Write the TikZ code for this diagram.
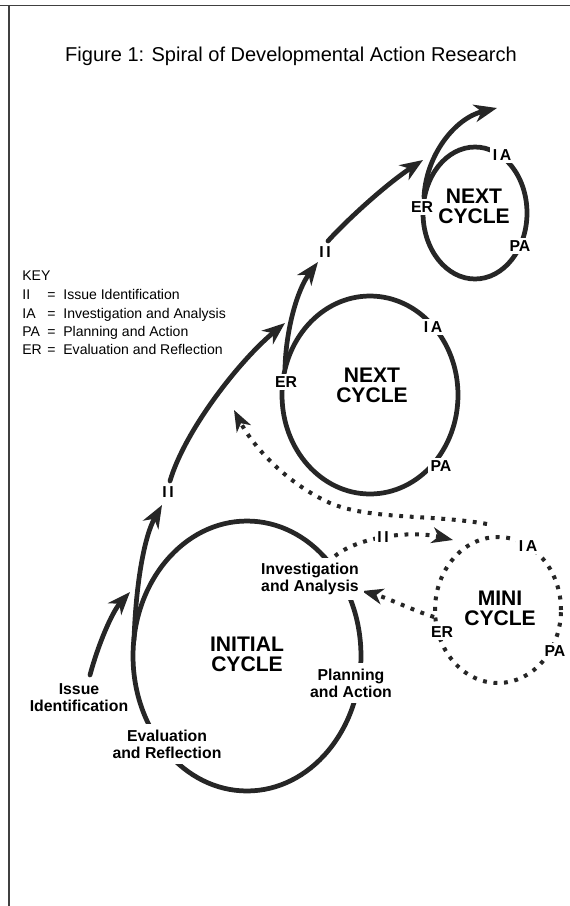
\documentclass[tikz,border=0pt]{standalone}
\usepackage{fontspec}
\setmainfont{Liberation Sans}
\usetikzlibrary{arrows.meta}
\begin{document}
\begin{tikzpicture}[x=0.02cm,y=-0.02cm,
  spiral/.style={line width=2.7pt, draw=black!85, line cap=round},
  spiralarrow/.style={spiral, -{Stealth[length=13pt,width=10pt,inset=4pt]}},
  dots/.style={line width=2.3pt, draw=black!85, dash pattern=on 2.2pt off 3.8pt},
  dotarrow/.style={dots, -{Stealth[length=12pt,width=9pt,inset=3.5pt]}},
  cyclename/.style={font=\bfseries\fontsize{12}{11.5}\selectfont, align=center, inner sep=0pt},
  tag/.style={font=\bfseries\fontsize{9}{10}\selectfont, fill=white, inner sep=1.5pt},
  phase/.style={font=\bfseries\fontsize{9}{9.8}\selectfont, align=center, fill=white, inner sep=3pt},
  keytext/.style={font=\fontsize{8}{10}\selectfont, anchor=west, inner sep=0pt, text height=1.6ex, text depth=0.3ex},
  frame/.style={line width=1.1pt, draw=black!75}
]
\useasboundingbox (0,0) rectangle (570,906);
% frame
\coordinate (fl) at (0,5.5);
\coordinate (fr) at (570,5.5);
\coordinate (ft) at (9,5.5);
\coordinate (fb) at (9,906);
\draw[frame] (fl) -- (fr);
\draw[frame] (ft) -- (fb);

% title
\node[font=\fontsize{11.4}{13}\selectfont] (title) at (291,56) {Figure 1: Spiral of Developmental Action Research};

% key
\node[keytext] (key) at (22,274) {KEY};
\node[keytext] (k1a) at (22,293) {II};
\node[keytext] (k1b) at (47,293) {=};
\node[keytext] (k1c) at (63,293) {Issue Identification};
\node[keytext] (k2a) at (22,312) {IA};
\node[keytext] (k2b) at (47,312) {=};
\node[keytext] (k2c) at (63,312) {Investigation and Analysis};
\node[keytext] (k3a) at (22,330) {PA};
\node[keytext] (k3b) at (47,330) {=};
\node[keytext] (k3c) at (63,330) {Planning and Action};
\node[keytext] (k4a) at (22,348) {ER};
\node[keytext] (k4b) at (47,348) {=};
\node[keytext] (k4c) at (63,348) {Evaluation and Reflection};

% cycles
\draw[spiral] (247,656) ellipse [x radius=2.28cm, y radius=2.7cm];
\draw[spiral] (370,395) ellipse [x radius=1.76cm, y radius=1.98cm];
\draw[spiral] (475,213) ellipse [x radius=1.04cm, y radius=1.32cm];
\draw[dots] (498,610) ellipse [x radius=1.26cm, y radius=1.46cm];

% spiral arrows
\draw[spiralarrow] (90,675) .. controls (98,645) and (112,612) .. (130,592);
\draw[spiralarrow] (134,640) .. controls (136,580) and (145,535) .. (162,505);
\draw[spiralarrow] (170,481) .. controls (185,430) and (240,360) .. (285,323);
\draw[spiralarrow] (285,368) .. controls (286,330) and (297,290) .. (318,262);
\draw[spiralarrow] (328,241) .. controls (345,222) and (385,185) .. (423,160);
\draw[spiralarrow] (424,197) .. controls (426,155) and (455,118) .. (497,108);

% dotted arrows
\draw[dotarrow] (335,556) .. controls (358,537) and (410,530) .. (453,540);
\draw[dotarrow] (434,617) .. controls (412,610) and (388,598) .. (362,591);
\draw[dotarrow] (487,524) .. controls (430,514) and (370,520) .. (330,503)
                .. controls (290,485) and (255,450) .. (234,410);

% labels on the initial cycle
\node[phase, fill=none] (iss) at (79,698) {Issue\\Identification};
\node[phase] (eval) at (167,744) {Evaluation\\and Reflection};
\node[phase] (inv) at (310,579) {Investigation\\and Analysis};
\node[phase] (plan) at (351,683) {Planning\\and Action};
\node[tag] (ii0) at (168,492) {I\kern1.5pt I};

% next cycle
\node[tag] (er1) at (286,382) {ER};
\node[tag] (ia1) at (433,327) {I\kern1.5pt A};
\node[tag] (pa1) at (441,466) {PA};
\node[tag] (ii1) at (325,252) {I\kern1.5pt I};

% top cycle
\node[tag] (er2) at (422,207) {ER};
\node[tag] (ia2) at (502,155) {I\kern1.5pt A};
\node[tag] (pa2) at (520,246) {PA};

% mini cycle
\node[tag] (ii3) at (383,537) {I\kern1.5pt I};
\node[tag] (ia3) at (528,546) {I\kern1.5pt A};
\node[tag] (er3) at (442,632) {ER};
\node[tag] (pa3) at (555,651) {PA};

% cycle names
\node[cyclename] (c0) at (247,654) {INITIAL\\CYCLE};
\node[cyclename] (c1) at (372,385) {NEXT\\CYCLE};
\node[cyclename] (c2) at (474,206) {NEXT\\CYCLE};
\node[cyclename] (c3) at (500,608) {MINI\\CYCLE};
\end{tikzpicture}
\end{document}
